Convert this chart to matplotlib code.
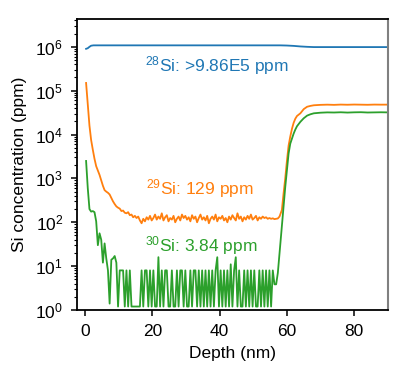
import matplotlib
matplotlib.use("Agg")
import matplotlib.pyplot as plt
import numpy as np

# 28Si (blue)
depth_28 = [0.3, 0.8, 1.3, 1.8, 2.5, 30, 58, 60, 62, 64, 66, 68, 90]
si28 = [9.0e5, 9.3e5, 1.0e6, 1.06e6, 1.08e6, 1.08e6, 1.08e6, 1.07e6,
        1.05e6, 1.02e6, 1.0e6, 9.86e5, 9.86e5]

# 29Si / 30Si inside the enriched layer, 0.5 nm steps from 0.3 nm
si29_low = [
    1.5e5, 5e4, 1.6e4, 7.5e3, 4.5e3, 2.8e3, 1.9e3, 1.5e3, 1.2e3, 900,
    680, 540, 500, 470, 430, 360, 300, 260, 230, 215,
    205, 180, 185, 165, 160, 170, 145, 150, 130, 140,
    125, 135, 110, 95,
    120, 105, 130, 115, 140, 110, 125, 150, 115, 135,
    120, 160, 110, 130, 145, 105, 125, 115, 140, 100,
    120, 135, 110, 150, 125, 140, 115, 130, 105, 145,
    120, 135, 100, 125, 150, 115, 130, 110, 140, 95,
    120, 135, 115, 150, 105, 130, 120, 140, 110, 125,
    100, 135, 115, 145, 125, 110, 160, 120, 135, 105,
    130, 115, 140, 120, 150, 115, 125, 140, 110, 130,
    120, 135, 125, 130, 120, 125, 120, 123, 118, 120,
    122, 135,
]
si30_low = [
    2500, 600, 200, 175, 180, 170, 105, 30, 56, 40,
    12, 33, 15, 8, 1.4, 14, 15, 17, 12, 1.2,
    8, 8, 8, 1.2, 8, 1.2, 8, 1.2, 1.2, 1.2,
    1.2, 1.2, 1.2, 8, 1.2, 8, 8, 1.2, 8, 1.2,
    8, 1.2, 1.2, 16, 1.2, 8, 1.2, 8, 8, 1.2,
    1.2, 8, 1.2, 1.2, 8, 1.2, 8, 8, 1.2, 8,
    1.2, 1.2, 8, 1.2, 8, 8, 1.2, 8, 1.2, 8,
    1.2, 8, 1.2, 8, 1.2, 8, 1.2, 8, 16, 1.2,
    8, 1.2, 8, 1.2, 8, 1.2, 11, 1.2, 8, 16,
    1.2, 8, 1.2, 1.2, 8, 1.2, 8, 1.2, 8, 1.2,
    8, 1.2, 1.2, 8, 1.2, 8, 1.2, 8, 1.2, 8,
    1.2, 8, 3.85, 3.85, 7, 19.5,
]
depth_low = 0.3 + 0.5 * np.arange(len(si29_low))

# substrate side
depth_high = [58.5, 59, 59.5, 60, 60.5, 61, 61.5, 62, 62.5, 63, 64, 65, 66,
              67, 68, 70, 72, 74, 76, 78, 80, 82, 84, 86, 88, 90]
si29_high = [190, 450, 1000, 2500, 5600, 9000, 13500, 18500, 23000, 26500,
             30500, 38000, 43000, 45000, 46500, 47500, 48000, 47500, 48200,
             47800, 48300, 48000, 47700, 48200, 48000, 48100]
si30_high = [80, 224, 630, 1500, 3700, 6200, 8000, 10500, 13000, 15500,
             19500, 23500, 27000, 29000, 30500, 31500, 32000, 31800, 32200,
             31700, 32100, 32300, 31800, 32000, 32200, 32000]

blue = "#1f77b4"
orange = "#ff7f0e"
green = "#2ca02c"

plt.rcParams["font.family"] = ["Liberation Sans", "DejaVu Sans"]
plt.rcParams["font.size"] = 12.5
plt.rcParams["mathtext.fontset"] = "custom"
plt.rcParams["mathtext.rm"] = "Liberation Sans"
plt.rcParams["mathtext.it"] = "Liberation Sans:italic"
plt.rcParams["mathtext.bf"] = "Liberation Sans:bold"

fig = plt.figure(figsize=(3.99, 3.66), dpi=100)
ax = fig.add_axes([0.193, 0.153, 0.779, 0.795])

ax.plot(depth_28, si28, color=blue, lw=1.3)
ax.plot(np.concatenate([depth_low, depth_high]), si29_low + si29_high,
        color=orange, lw=1.3)
ax.plot(np.concatenate([depth_low, depth_high]), si30_low + si30_high,
        color=green, lw=1.3)

ax.set_yscale("log")
ax.set_xlim(-2.4, 90)
ax.set_ylim(1, 4.3e6)
ax.set_xticks([0, 20, 40, 60, 80])
ax.set_xlabel("Depth (nm)", labelpad=5)
ax.set_ylabel("Si concentration (ppm)", labelpad=6)

ax.text(17.8, 10 ** 5.58, "$^{28}$Si: >9.86E5 ppm", color=blue, va="center")
ax.text(18.1, 10 ** 2.78, "$^{29}$Si: 129 ppm", color=orange, va="center")
ax.text(17.9, 10 ** 1.48, "$^{30}$Si: 3.84 ppm", color=green, va="center")

for s in ["left", "bottom", "top"]:
    ax.spines[s].set_linewidth(1.3)
ax.spines["right"].set_color("#808080")
ax.spines["right"].set_linewidth(1.5)
ax.tick_params(which="major", length=4, width=1.1, direction="out")
ax.tick_params(axis="y", which="major", pad=6)
ax.tick_params(axis="x", which="major", pad=6)
ax.tick_params(which="minor", length=2.5, width=0.8, direction="out")
ax.tick_params(axis="x", which="minor", bottom=False)

fig.savefig("out.png", dpi=100)
